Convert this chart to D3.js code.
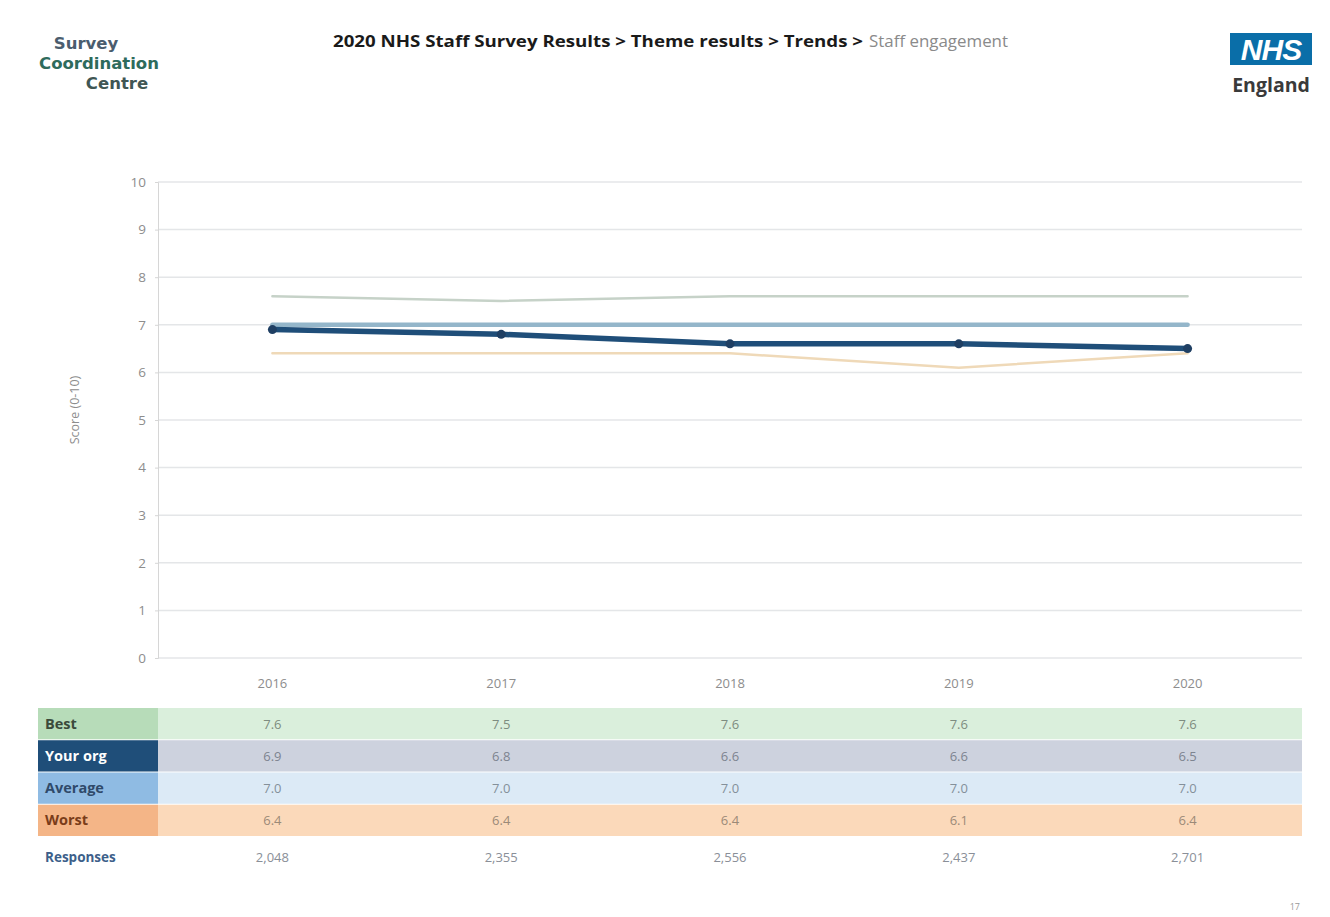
<!DOCTYPE html>
<html>
<head>
<meta charset="utf-8">
<script src="https://cdn.jsdelivr.net/npm/d3@7"></script>
<style>
  html, body { margin: 0; padding: 0; background: #ffffff; }
  svg { display: block; font-family: "Open Sans", "Noto Sans", sans-serif; }
</style>
</head>
<body>
<svg id="chart" width="1330" height="917"></svg>
<script>
// Survey years and theme scores (Staff engagement, 0-10)
const years = ["2016", "2017", "2018", "2019", "2020"];
const best = [7.6, 7.5, 7.6, 7.6, 7.6];
const yourOrg = [6.9, 6.8, 6.6, 6.6, 6.5];
const average = [7.0, 7.0, 7.0, 7.0, 7.0];
const worst = [6.4, 6.4, 6.4, 6.1, 6.4];
const responses = [2048, 2355, 2556, 2437, 2701];
const yTicks = [0, 1, 2, 3, 4, 5, 6, 7, 8, 9, 10];

const svg = d3.select("#chart");

// ---- header ----
const logo = svg.append("g").attr("font-family", "'DejaVu Sans', sans-serif")
  .attr("font-weight", 700).attr("font-size", 16.5);
logo.append("text").attr("x", 86).attr("y", 49).attr("text-anchor", "middle").attr("fill", "#4b5d6e").text("Survey");
logo.append("text").attr("x", 99).attr("y", 69).attr("text-anchor", "middle").attr("fill", "#2e6b5c").text("Coordination");
logo.append("text").attr("x", 117).attr("y", 89).attr("text-anchor", "middle").attr("fill", "#3f5654").text("Centre");

// breadcrumb title
svg.append("text").attr("x", 333).attr("y", 47)
  .attr("font-family", "'Open Sans', sans-serif").attr("font-size", 16).attr("font-weight", 700)
  .attr("fill", "#1a1a1a").attr("textLength", 530).attr("lengthAdjust", "spacingAndGlyphs")
  .text("2020 NHS Staff Survey Results > Theme results > Trends >");
svg.append("text").attr("x", 869).attr("y", 47)
  .attr("font-family", "'Open Sans', sans-serif").attr("font-size", 16)
  .attr("fill", "#8a8a8a").attr("textLength", 139).attr("lengthAdjust", "spacingAndGlyphs")
  .text("Staff engagement");

svg.append("rect").attr("x", 1230).attr("y", 33).attr("width", 82).attr("height", 32).attr("fill", "#0a6ea8");
svg.append("text").attr("x", 1271).attr("y", 60).attr("text-anchor", "middle")
  .attr("font-family", "Arial, 'Liberation Sans', sans-serif").attr("font-weight", 700)
  .attr("font-style", "italic").attr("font-size", 30).attr("fill", "#ffffff").attr("letter-spacing", -1).text("NHS");
svg.append("text").attr("x", 1271).attr("y", 92).attr("text-anchor", "middle")
  .attr("font-family", "'Open Sans', sans-serif").attr("font-weight", 700)
  .attr("font-size", 19.5).attr("fill", "#3a3a3a").text("England");

// ---- chart ----
const plotLeft = 158, plotRight = 1302, plotTop = 182, plotBottom = 658;
const x = d3.scaleBand().domain(years).range([plotLeft, plotRight]);
const cx = d => x(d) + x.bandwidth() / 2;
const y = d3.scaleLinear().domain([0, 10]).range([plotBottom, plotTop]);

// horizontal gridlines
svg.append("g").selectAll("line").data(yTicks).join("line")
  .attr("x1", plotLeft).attr("x2", plotRight)
  .attr("y1", d => y(d)).attr("y2", d => y(d))
  .attr("stroke", "#e4e6e8").attr("stroke-width", 1.5);

// y axis
const yAxis = svg.append("g").attr("transform", `translate(${plotLeft},0)`)
  .call(d3.axisLeft(y).tickValues(yTicks).tickSize(3).tickPadding(9));
yAxis.select(".domain").attr("stroke", "#d6d6d6");
yAxis.selectAll(".tick line").attr("stroke", "#d6d6d6");
yAxis.selectAll(".tick text").attr("fill", "#8d8d8d").attr("font-size", 13.5)
  .attr("font-family", "'Open Sans', sans-serif");

svg.append("text").attr("transform", `translate(79,${(plotTop + plotBottom) / 2 - 10}) rotate(-90)`)
  .attr("text-anchor", "middle").attr("font-size", 12.5).attr("fill", "#8d8d8d").text("Score (0-10)");

// x axis labels
svg.append("g").selectAll("text").data(years).join("text")
  .attr("x", d => cx(d)).attr("y", 688).attr("text-anchor", "middle")
  .attr("font-size", 13).attr("fill", "#8d8d8d").text(d => d);

// series lines
const line = d3.line().x((d, i) => cx(years[i])).y(d => y(d));
const series = [
  { values: best, color: "#c6d2c8", width: 2.5 },
  { values: worst, color: "#efd9b8", width: 2.5 },
  { values: average, color: "#94b6ca", width: 4.5 },
  { values: yourOrg, color: "#1f4e79", width: 5.5 }
];
svg.append("g").selectAll("path").data(series).join("path")
  .attr("d", d => line(d.values)).attr("fill", "none")
  .attr("stroke", d => d.color).attr("stroke-width", d => d.width)
  .attr("stroke-linejoin", "round").attr("stroke-linecap", "round");

svg.append("g").selectAll("circle").data(yourOrg).join("circle")
  .attr("cx", (d, i) => cx(years[i])).attr("cy", d => y(d)).attr("r", 4.5).attr("fill", "#1f3f63");

// ---- data table ----
const rows = [
  { name: "Best", values: best, labelBg: "#b7dcb9", rowBg: "#daefdc", labelColor: "#3b4a3b", valColor: "#7e8c80" },
  { name: "Your org", values: yourOrg, labelBg: "#1f4e79", rowBg: "#cdd2de", labelColor: "#ffffff", valColor: "#7d8490" },
  { name: "Average", values: average, labelBg: "#8fbbe3", rowBg: "#dceaf6", labelColor: "#2f4a6a", valColor: "#84909a" },
  { name: "Worst", values: worst, labelBg: "#f4b587", rowBg: "#fbd9ba", labelColor: "#7a3d1a", valColor: "#9b8a78" }
];
const rowY = d3.scaleBand().domain(rows.map(r => r.name)).range([708, 836]).paddingInner(0.03);

const rg = svg.append("g").selectAll("g").data(rows).join("g")
  .attr("transform", d => `translate(0,${rowY(d.name)})`);
rg.append("rect").attr("x", plotLeft).attr("width", plotRight - plotLeft).attr("height", rowY.bandwidth()).attr("fill", d => d.rowBg);
rg.append("rect").attr("x", 38).attr("width", plotLeft - 38).attr("height", rowY.bandwidth()).attr("fill", d => d.labelBg);
rg.append("text").attr("x", 45).attr("y", rowY.bandwidth() / 2 + 5)
  .attr("font-weight", 700).attr("font-size", 14.5).attr("fill", d => d.labelColor).text(d => d.name);
rg.selectAll("text.val").data(d => d.values.map(v => ({ v, c: d.valColor }))).join("text")
  .attr("class", "val").attr("x", (d, i) => cx(years[i])).attr("y", rowY.bandwidth() / 2 + 5)
  .attr("text-anchor", "middle").attr("font-size", 13).attr("fill", d => d.c).text(d => d.v.toFixed(1));

// responses row
svg.append("text").attr("x", 45).attr("y", 862).attr("font-weight", 700).attr("font-size", 13.5)
  .attr("fill", "#3d5f8a").text("Responses");
svg.append("g").selectAll("text").data(responses).join("text")
  .attr("x", (d, i) => cx(years[i])).attr("y", 862).attr("text-anchor", "middle")
  .attr("font-size", 13).attr("fill", "#8a8f98").text(d => d3.format(",")(d));

// page number
svg.append("text").attr("x", 1300).attr("y", 910).attr("text-anchor", "end")
  .attr("font-size", 9).attr("fill", "#9a9a9a").text("17");
</script>
</body>
</html>
